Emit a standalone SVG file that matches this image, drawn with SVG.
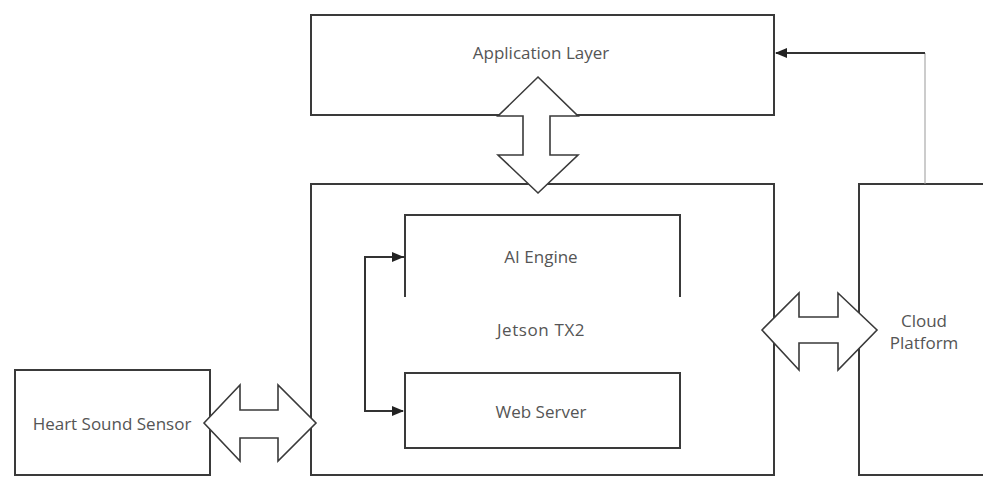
<svg xmlns="http://www.w3.org/2000/svg" width="983" height="477" viewBox="0 0 983 477">
<defs>
<style>
.box{fill:#fff;stroke:#3a3a3a;stroke-width:2}
.dbl{fill:#fff;stroke:#3a3a3a;stroke-width:1.6;stroke-linejoin:miter}
.lbl{font-family:"Open Sans","Noto Sans","DejaVu Sans",sans-serif;font-size:17px;fill:#555;text-anchor:middle;dominant-baseline:central}
.con{fill:none;stroke:#333;stroke-width:2}
</style>
<marker id="ah" markerWidth="12" markerHeight="10" refX="11" refY="5" orient="auto" markerUnits="userSpaceOnUse">
<path d="M0,0 L12,5 L0,10 Z" fill="#222"/>
</marker>
</defs>
<rect width="983" height="477" fill="#fff"/>
<g id="app-layer">
<rect class="box" x="311" y="15" width="463" height="100"/>
<text class="lbl" x="541" y="52">Application Layer</text>
</g>
<g id="jetson">
<rect class="box" x="311" y="184" width="463" height="291"/>
<text class="lbl" x="541" y="329" letter-spacing="0.6">Jetson TX2</text>
</g>
<g id="ai-engine">
<path class="box" d="M405,297 L405,215 L680,215 L680,297"/>
<text class="lbl" x="541" y="256">AI Engine</text>
</g>
<g id="web-server">
<rect class="box" x="405" y="373" width="275" height="75"/>
<text class="lbl" x="541" y="411">Web Server</text>
</g>
<g id="heart-sensor">
<rect class="box" x="15" y="370" width="195" height="105"/>
<text class="lbl" x="112" y="423">Heart Sound Sensor</text>
</g>
<g id="cloud">
<rect class="box" x="859" y="184" width="140" height="291"/>
<text class="lbl" x="924" y="320">Cloud</text>
<text class="lbl" x="924" y="342">Platform</text>
</g>
<g id="connectors">
<path class="dbl" d="M538,77 L578,116 L550,116 L550,155 L578,155 L538,193 L498,155 L523,155 L523,116 L498,116 Z"/>
<path class="dbl" d="M204,423 L240,385 L240,410 L278,410 L278,385 L316,423 L278,461 L278,438 L240,438 L240,461 Z"/>
<path class="dbl" d="M762,330 L799,293 L799,317 L838,317 L838,293 L877,330 L838,370 L838,343 L799,343 L799,370 Z"/>
<path class="con" d="M405,257 L365,257 L365,411 L403,411" marker-end="url(#ah)"/>
<path class="con" d="M365,257 L403,257" marker-end="url(#ah)"/>
<path d="M925,184 L925,53" fill="none" stroke="#999" stroke-width="1"/>
<path class="con" d="M925,53 L776,53" stroke="#555" marker-end="url(#ah)"/>
</g>
</svg>
